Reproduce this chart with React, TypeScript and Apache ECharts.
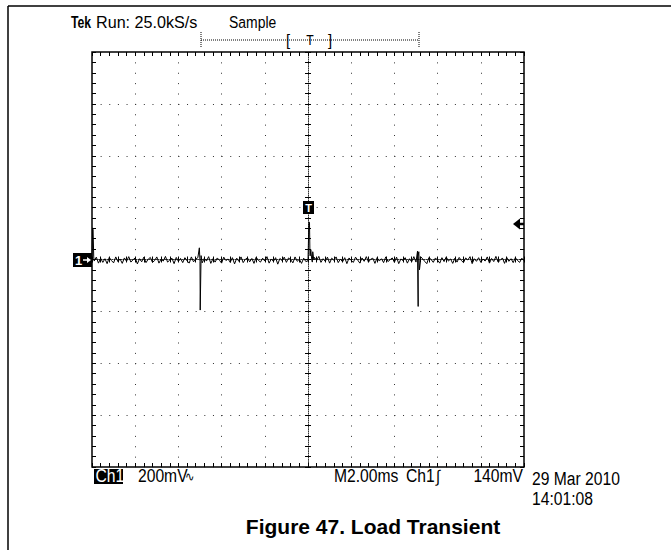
import React, { useEffect, useRef } from "react";
import * as echarts from "echarts";

// ---- data (ms / mV) ----
const timeRangeMs = [-10, 10];
const voltRangeMv = [-800, 800];
const timePerDivMs = 2;
const voltPerDivMv = 200;
const traceStartMs = -10;
const traceStepMs = 0.1;
const traceNoiseMv = [
  0, -6, 9, -14, 5, -11, 3, -16, 8, -4,
  -13, 10, -8, 2, -15, 6, -7, 11, -10, -1,
  6, -17, 3, -9, 9, -12, 1, 8, -11, -4,
  10, -14, 2, -6, 12, -10, -2, 5, -16, 8,
  -7, 4, -12, 7, -5, -14, 10, -9, 1, 7,
  -8, -13, 5, -6, 11, -15, 3, -10, 6, -3,
  -14, 9, -4, 2, -11, 7, -17, 5, -7, 10,
  -12, 1, 6, -9, 4, -15, 9, -3, -10, 5,
  -6, 11, -14, 2, -7, 7, -18, 4, -4, 9,
  -11, 6, -1, -13, 10, -7, 1, -15, 5, -8,
  -5, 14, -10, 8, -4, 12, -11, 3, -7, 9,
  -14, 5, -3, 10, -12, 2, -9, 7, -16, 6,
  -4, -11, 9, -2, -14, 6, -7, 11, -10, 1,
  5, -15, 7, -6, 3, -12, 10, -8, -1, 6,
  -11, 9, -16, 2, -4, 7, -14, 3, -9, 11,
  -10, 13, -12, 4, -7, -16, 8, 0, -11, 6,
  -3, -14, 7, -8, 10, -6, 2, -15, 5, -10,
  8, -4, -12, 6, -2, 11, -16, 3, -7, 7,
  -11, 2, -6, 10, -14, 4, -8, 12, -10, -3,
  6, -15, 8, -7, 3, -12, 7, -4, -11, 5,
  -5,
];
const spikeTimesMs = [
  -9.97, -9.95, -9.92,
  -5.03, -4.99, -4.95,
  0.02, 0.04, 0.05, 0.07, 0.09, 0.13, 0.17, 0.22, 0.27,
  5.07, 5.1, 5.13, 5.16, 5.22,
];
const spikeValuesMv = [
  122, 115, 10,
  45, -195, 15,
  -6, 140, 145, 142, 22, 38, 2, 30, -2,
  32, -181, 30, -40, 10,
];

const headerLabels = ["Tek", "Run: 25.0kS/s", "Sample"];
const footerLabels = ["Ch1", "200mV", "M2.00ms", "Ch1", "140mV"];
const dateLabels = ["29 Mar 2010", "14:01:08"];
const titleText = "Figure 47. Load Transient";

const FONT = "'Liberation Sans', Arial, sans-serif";

function txt(x: number, y: number, text: string, o: any = {}) {
  return {
    type: "text",
    x,
    y,
    scaleX: o.scaleX ?? 0.87,
    z: 20,
    style: {
      text,
      x: 0,
      y: 0,
      fill: o.fill ?? "#000",
      font: `${o.bold ? "bold " : ""}${o.size ?? 18}px ${FONT}`,
      textAlign: o.align ?? "left",
      textVerticalAlign: "middle",
    },
  };
}

export default function App() {
  const ref = useRef<HTMLDivElement>(null);
  useEffect(() => {
    document.body.style.margin = "0";
    const chart = echarts.init(ref.current!, null, { renderer: "svg" });

    const pts: number[][] = traceNoiseMv.map((v, i) => [traceStartMs + i * traceStepMs, v]);
    spikeTimesMs.forEach((t, i) => pts.push([t, spikeValuesMv[i]]));
    pts.sort((a, b) => a[0] - b[0]);

    const minorX = timePerDivMs / 5;
    const minorY = voltPerDivMv / 5;
    const baseX: any = {
      type: "value",
      min: timeRangeMs[0],
      max: timeRangeMs[1],
      axisLabel: { show: false },
      axisLine: { show: false, onZero: false },
      axisTick: { show: false },
      splitLine: { show: false },
    };
    const baseY: any = {
      type: "value",
      min: voltRangeMv[0],
      max: voltRangeMv[1],
      axisLabel: { show: false },
      axisLine: { show: false, onZero: false },
      axisTick: { show: false },
      splitLine: { show: false },
    };
    const tick = (len: number) => ({ show: true, inside: true, length: len, lineStyle: { color: "#000", width: 1 } });
    const dense = { color: "#333", width: 1, type: [1, 1.2] };

    chart.setOption({
      animation: false,
      grid: {
        left: 92,
        top: 52,
        width: 432,
        height: 415,
        show: true,
        borderColor: "#000",
        borderWidth: 1.5,
        backgroundColor: "transparent",
      },
      xAxis: [
        { ...baseX, interval: timePerDivMs, splitLine: { show: true, lineStyle: { color: "#333", width: 1, type: [1, 9.375] } } },
        { ...baseX, position: "bottom", interval: minorX, axisTick: tick(4) },
        { ...baseX, position: "top", interval: minorX, axisTick: tick(4) },
        { ...baseX, position: "bottom", interval: minorX, axisLine: { show: true, onZero: true, onZeroAxisIndex: 0, lineStyle: dense }, axisTick: tick(3) },
        { ...baseX, position: "top", interval: minorX, axisLine: { show: false, onZero: true, onZeroAxisIndex: 0 }, axisTick: tick(3) },
      ],
      yAxis: [
        { ...baseY, interval: voltPerDivMv, splitLine: { show: true, lineStyle: { color: "#333", width: 1, type: [1, 7.64] } } },
        { ...baseY, position: "left", interval: minorY, axisTick: tick(4) },
        { ...baseY, position: "right", interval: minorY, axisTick: tick(4) },
        { ...baseY, position: "left", interval: minorY, axisLine: { show: true, onZero: true, onZeroAxisIndex: 0, lineStyle: dense }, axisTick: tick(3) },
        { ...baseY, position: "right", interval: minorY, axisLine: { show: false, onZero: true, onZeroAxisIndex: 0 }, axisTick: tick(3) },
      ],
      series: [
        {
          type: "line",
          xAxisIndex: 0,
          yAxisIndex: 0,
          data: pts,
          symbol: "none",
          showSymbol: false,
          lineStyle: { color: "#000", width: 1 },
          z: 5,
        },
      ],
      graphic: [
        // page frame
        { type: "line", shape: { x1: 8, y1: 6, x2: 671, y2: 6 }, style: { stroke: "#000", lineWidth: 1.5 } },
        { type: "line", shape: { x1: 8, y1: 6, x2: 8, y2: 550 }, style: { stroke: "#000", lineWidth: 1.5 } },
        // header
        txt(71, 22, headerLabels[0], { bold: true, size: 17, scaleX: 0.72 }),
        txt(96, 22, headerLabels[1], { size: 17, scaleX: 0.95 }),
        txt(229, 22, headerLabels[2], { size: 17, scaleX: 0.82 }),
        // timebase bar
        { type: "line", shape: { x1: 201, y1: 40, x2: 419, y2: 40 }, style: { stroke: "#000", lineWidth: 1, lineDash: [1, 1] } },
        { type: "line", shape: { x1: 201, y1: 32, x2: 201, y2: 47 }, style: { stroke: "#000", lineWidth: 1, lineDash: [1, 1] } },
        { type: "line", shape: { x1: 419, y1: 32, x2: 419, y2: 47 }, style: { stroke: "#000", lineWidth: 1, lineDash: [1, 1] } },
        txt(286, 40, "[", { size: 17 }),
        txt(310, 40, "T", { size: 14, align: "center" }),
        txt(332, 40, "]", { size: 17, align: "right" }),
        // ground marker
        { type: "rect", shape: { x: 73, y: 253, width: 19, height: 14 }, style: { fill: "#000" } },
        txt(75, 260, "1", { size: 13, fill: "#fff", bold: true, scaleX: 1 }),
        { type: "line", shape: { x1: 83, y1: 260, x2: 88, y2: 260 }, style: { stroke: "#fff", lineWidth: 1.5 } },
        { type: "polygon", shape: { points: [[91, 260], [87, 257], [87, 263]] }, style: { fill: "#fff" } },
        // trigger position marker
        { type: "rect", shape: { x: 303, y: 201, width: 11, height: 13 }, style: { fill: "#000" }, z: 10 },
        txt(308.5, 207.5, "T", { size: 11, fill: "#fff", bold: true, align: "center", scaleX: 1 }),
        // trigger level arrow
        { type: "polygon", shape: { points: [[513, 224], [520, 218.5], [520, 229.5]] }, style: { fill: "#000" } },
        { type: "line", shape: { x1: 519, y1: 224, x2: 524, y2: 224 }, style: { stroke: "#000", lineWidth: 2.5 } },
        // footer
        { type: "rect", shape: { x: 94, y: 469, width: 29, height: 15 }, style: { fill: "#000" } },
        txt(95.5, 476.5, footerLabels[0], { fill: "#fff" }),
        txt(138, 476.5, footerLabels[1]),
        txt(185, 476.5, "\u223F", { size: 13 }),
        txt(334, 476.5, footerLabels[2]),
        txt(406, 476.5, footerLabels[3]),
        txt(436, 476.5, "\u222B", { size: 17 }),
        txt(523, 476.5, footerLabels[4], { align: "right" }),
        txt(532, 479, dateLabels[0]),
        txt(532, 499.5, dateLabels[1]),
        // figure title
        {
          type: "text",
          x: 373,
          y: 526,
          style: {
            text: titleText,
            x: 0,
            y: 0,
            fill: "#000",
            font: `bold 21px ${FONT}`,
            textAlign: "center",
            textVerticalAlign: "middle",
          },
        },
      ],
    });
    return () => chart.dispose();
  }, []);
  return <div ref={ref} style={{ width: 671, height: 550 }} />;
}
